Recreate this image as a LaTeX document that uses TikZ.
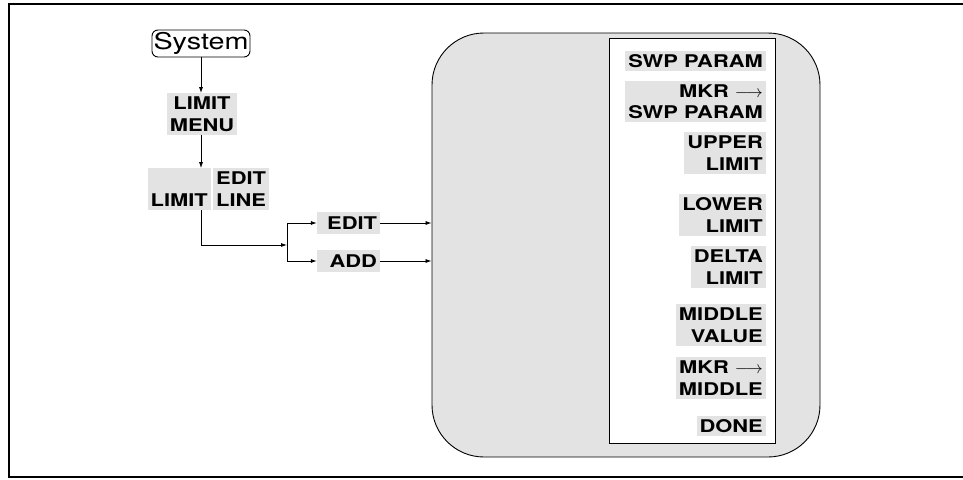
\documentclass[tikz,border=0pt]{standalone}
\usepackage{fontspec}
\usetikzlibrary{arrows.meta}
\newfontfamily\kf[FakeStretch=1.25]{TeX Gyre Heros}
\tikzset{
  arr/.style={-{Latex[length=6pt,width=4pt]}, line width=0.8pt},
  conn/.style={line width=0.8pt},
  key/.style={fill=gray!22, inner xsep=3pt, inner ysep=3.5pt,
    font=\kf\bfseries\fontsize{17.5}{21.5}\selectfont},
  rkey/.style={key, anchor=east, align=right},
}
\begin{document}
\begin{tikzpicture}[x=1pt,y=-1pt]
\useasboundingbox (0,0) rectangle (963,479);
% frame
\draw[line width=1.6pt] (963,4) -- (9,4) -- (9,477) -- (963,477);
% panel
\node[draw, line width=0.9pt, fill=gray!22, rounded corners=52pt,
      minimum width=388pt, minimum height=424pt, inner sep=0pt] (panel) at (626,245) {};
\node[draw, line width=0.9pt, fill=white, minimum width=166pt, minimum height=405pt,
      inner sep=0pt] (menu) at (692,240.5) {};
% right keys
\node[rkey] (k1) at (766,61) {SWP PARAM};
\node[rkey] (k2) at (766,101.5) {MKR $\longrightarrow$\\SWP PARAM};
\node[rkey] (k3) at (766,153) {UPPER\\LIMIT};
\node[rkey] (k4) at (766,215) {LOWER\\LIMIT};
\node[rkey] (k5) at (766,267) {DELTA\\LIMIT};
\node[rkey] (k6) at (766,325) {MIDDLE\\VALUE};
\node[rkey] (k7) at (766,378) {MKR $\longrightarrow$\\MIDDLE};
\node[rkey] (k8) at (766,426) {DONE};
% left chain
\node[draw, line width=0.9pt, rounded corners=6pt, minimum width=98pt, minimum height=27pt,
      inner sep=0pt, font=\kf\fontsize{23}{26}\selectfont] (sys) at (201,43.5) {System};
\node[key, align=center] (lmenu) at (202,114) {LIMIT\\MENU};
\node[key, anchor=east, align=right] (lim) at (211,189) {\vphantom{E}\\LIMIT};
\node[key, anchor=west, align=left] (eline) at (213,189) {EDIT\\LINE};
\node[key, text width=57pt, align=right, inner ysep=4.5pt] (edit) at (348.5,223) {EDIT};
\node[key, text width=57pt, align=right, inner ysep=4.5pt] (add) at (348.5,261) {ADD};
\coordinate (j) at (287,245);
% connectors
\draw[arr] (sys.south) -- (sys.south |- lmenu.north);
\draw[arr] (sys.south |- lmenu.south) -- (sys.south |- lim.north);
\draw[arr] (lim.south -| sys.south) |- (j);
\draw[conn] (j |- edit) -- (j |- add);
\draw[arr] (j |- edit) -- (edit.west);
\draw[arr] (j |- add) -- (add.west);
\draw[arr] (edit.east) -- (edit.east -| panel.west);
\draw[arr] (add.east) -- (add.east -| panel.west);
\end{tikzpicture}
\end{document}
